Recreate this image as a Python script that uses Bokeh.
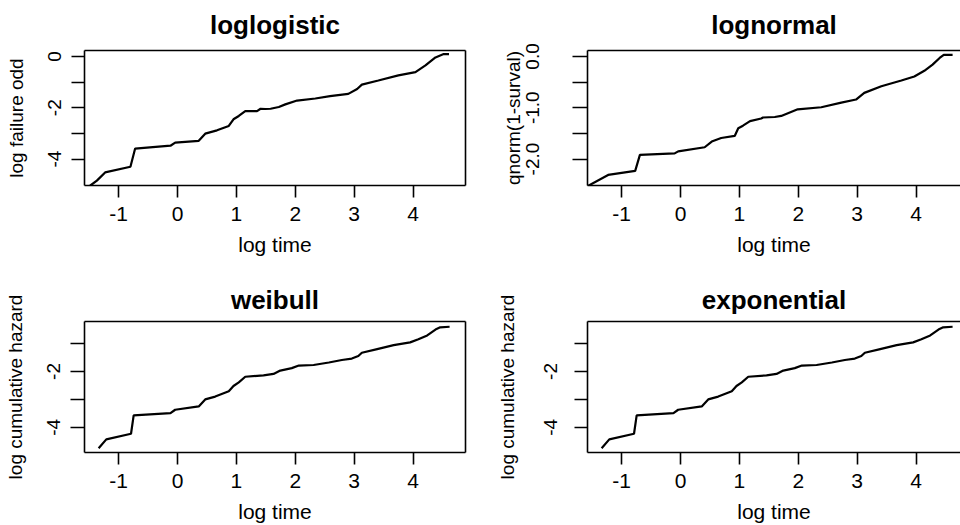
import math
from bokeh.plotting import figure
from bokeh.layouts import column, row
from bokeh.models import FixedTicker, LinearAxis, Range1d
from bokeh.embed import file_html
from bokeh.resources import INLINE

# ---------------- data ----------------
x_ticks = [-1, 0, 1, 2, 3, 4]
x_tick_labels = ["-1", "0", "1", "2", "3", "4"]

# loglogistic: log failure odds vs log time
loglogistic_x = [-1.64, -1.48, -1.37, -1.23, -0.80, -0.72, -0.12, -0.04, 0.36, 0.47, 0.67,
                 0.87, 0.95, 1.04, 1.15, 1.35, 1.41, 1.49, 1.58, 1.72, 1.83, 2.03, 2.34,
                 2.59, 2.90, 3.05, 3.13, 3.41, 3.75, 4.04, 4.21, 4.38, 4.52, 4.61]
loglogistic_y = [-5.30, -5.03, -4.84, -4.52, -4.30, -3.59, -3.48, -3.36, -3.29, -3.01, -2.88,
                 -2.71, -2.45, -2.32, -2.13, -2.13, -2.04, -2.05, -2.04, -1.97, -1.87, -1.72,
                 -1.64, -1.55, -1.46, -1.27, -1.10, -0.94, -0.74, -0.61, -0.35, -0.04, 0.09, 0.09]

# lognormal: qnorm(1 - survival) vs log time
lognormal_x = [-1.65, -1.565, -1.23, -0.77, -0.69, -0.10, -0.04, 0.41, 0.53, 0.69, 0.92,
               0.98, 1.06, 1.18, 1.37, 1.40, 1.60, 1.71, 1.99, 2.39, 2.73, 2.98, 3.12,
               3.41, 3.75, 3.97, 4.14, 4.28, 4.40, 4.47, 4.62]
lognormal_y = [-2.57, -2.52, -2.31, -2.23, -1.92, -1.89, -1.85, -1.77, -1.66, -1.59, -1.55,
               -1.40, -1.35, -1.26, -1.21, -1.19, -1.18, -1.16, -1.03, -0.99, -0.90, -0.84, -0.71,
               -0.58, -0.47, -0.39, -0.28, -0.16, -0.03, 0.03, 0.03]

# weibull: log cumulative hazard vs log time
weibull_x = [-1.34, -1.21, -0.79, -0.745, -0.12, -0.04, 0.36, 0.47, 0.64, 0.87, 0.95, 1.04,
             1.15, 1.46, 1.63, 1.745, 1.94, 2.06, 2.31, 2.57, 2.79, 2.96, 3.07, 3.13, 3.39,
             3.67, 3.95, 4.09, 4.24, 4.38, 4.46, 4.62]
weibull_y = [-4.75, -4.43, -4.23, -3.57, -3.49, -3.37, -3.25, -3.00, -2.90, -2.71, -2.52, -2.39,
             -2.19, -2.14, -2.09, -1.97, -1.88, -1.79, -1.77, -1.68, -1.59, -1.54, -1.45, -1.33,
             -1.20, -1.06, -0.96, -0.85, -0.71, -0.50, -0.42, -0.40]

# exponential: same log cumulative hazard curve
exponential_x = list(weibull_x)
exponential_y = list(weibull_y)

FONT = "Liberation Sans"
LW = 1.6


def empty_axis():
    ax = LinearAxis(ticker=FixedTicker(ticks=[]), axis_line_color="black",
                    axis_line_width=LW, major_tick_out=0, major_tick_in=0,
                    minor_tick_out=0, minor_tick_in=0,
                    major_label_text_font_size="0px", major_label_standoff=0)
    return ax


def panel(title, xs, ys, ylabel, yr, ymajor, yminor, ylabels, width, height,
          bl, br, bt, bb, xr_end, right_open, ytick_len, ylab_standoff, yaxlab_standoff,
          xlab_standoff, xaxlab_standoff, title_offset, title_standoff, title_valign):
    p = figure(width=width, height=height, output_backend="svg", toolbar_location=None,
               x_range=Range1d(-1.58, xr_end), y_range=Range1d(*yr),
               x_axis_location=None, y_axis_location=None,
               min_border_left=bl, min_border_right=br, min_border_top=bt,
               min_border_bottom=bb)
    p.outline_line_color = None
    p.grid.visible = False
    p.background_fill_color = "white"
    p.border_fill_color = "white"

    p.line(xs, ys, line_color="black", line_width=2.2)

    xa = LinearAxis(ticker=FixedTicker(ticks=x_ticks),
                    major_label_overrides={t: s for t, s in zip(x_ticks, x_tick_labels)})
    xa.axis_label = "log time"
    xa.major_tick_out = 12
    xa.major_tick_in = 0
    xa.minor_tick_out = 0
    xa.major_label_standoff = xlab_standoff
    xa.axis_label_standoff = xaxlab_standoff
    p.add_layout(xa, "below")

    ya = LinearAxis(ticker=FixedTicker(ticks=ymajor, minor_ticks=yminor),
                    major_label_overrides={t: s for t, s in zip(ymajor, ylabels)})
    ya.axis_label = ylabel
    ya.major_tick_out = ytick_len
    ya.minor_tick_out = ytick_len
    ya.major_tick_in = 0
    ya.minor_tick_in = 0
    ya.major_label_orientation = "parallel"
    ya.major_label_standoff = ylab_standoff
    ya.axis_label_standoff = yaxlab_standoff
    p.add_layout(ya, "left")

    for ax in (xa, ya):
        ax.axis_line_color = "black"
        ax.axis_line_width = LW
        ax.major_tick_line_color = "black"
        ax.major_tick_line_width = LW
        ax.minor_tick_line_color = "black"
        ax.minor_tick_line_width = LW
        ax.major_label_text_font = FONT
        ax.major_label_text_color = "black"
        ax.axis_label_text_font = FONT
        ax.axis_label_text_font_style = "normal"
        ax.axis_label_text_color = "black"
    xa.major_label_text_font_size = "21px"
    xa.axis_label_text_font_size = "21px"
    ya.major_label_text_font_size = "19px"
    ya.axis_label_text_font_size = "19px"

    p.add_layout(empty_axis(), "above")
    if not right_open:
        p.add_layout(empty_axis(), "right")

    p.title.text = title
    p.title.align = "center"
    p.title.vertical_align = title_valign
    p.title.text_font = FONT
    p.title.text_font_size = "26px"
    p.title.text_font_style = "bold"
    p.title.text_color = "black"
    p.title.offset = title_offset
    p.title.standoff = title_standoff
    return p


x_end_left = 4.89
x_end_right = -1.58 + 373 * (4.89 + 1.58) / 381.0

p1 = panel("loglogistic", loglogistic_x, loglogistic_y, "log failure odd", (-5.03, 0.23),
           [-4, -2, 0], [-3, -1], ["-4", "-2", "0"], 480, 270, 84, 15, 49, 85,
           x_end_left, False, 13, 10, 19, 9, 9, 0, 18, "top")
p2 = panel("lognormal", lognormal_x, lognormal_y, "qnorm(1-surval)", (-2.516, 0.116),
           [-2, -1, 0], [-1.5, -0.5], ["-2.0", "-1.0", "0.0"], 480, 270, 107, 0, 49, 85,
           x_end_right, True, 15, 33, 0, 9, 9, 4, 18, "top")
p3 = panel("weibull", weibull_x, weibull_y, "log cumulative hazard", (-4.90, -0.213),
           [-4, -2], [-3, -1], ["-4", "-2"], 480, 255, 84, 15, 51, 68,
           x_end_left, False, 14, 10, 19, 9, 9, 0, 13, "bottom")
p4 = panel("exponential", exponential_x, exponential_y, "log cumulative hazard", (-4.90, -0.213),
           [-4, -2], [-3, -1], ["-4", "-2"], 480, 255, 107, 0, 51, 68,
           x_end_right, True, 13, 17, 24, 9, 9, 4, 13, "bottom")

layout = column(row(p1, p2), row(p3, p4))
open("out.html", "w").write(file_html(layout, INLINE))
